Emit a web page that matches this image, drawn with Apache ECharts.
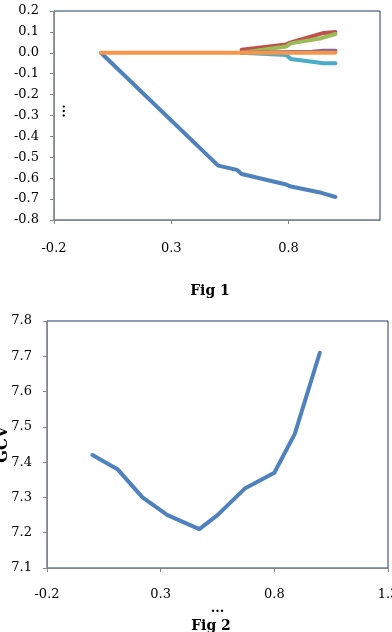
<!DOCTYPE html>
<html>
<head>
<meta charset="utf-8">
<script src="https://cdn.jsdelivr.net/npm/echarts@6/dist/echarts.min.js"></script>
<style>
  html, body { margin: 0; padding: 0; background: #fff; }
  #chart { width: 392px; height: 632px; }
</style>
</head>
<body>
<div id="chart"></div>
<script>
// Fig 1 - coefficient paths
var path1 = [[0, 0], [0.5, -0.54], [0.58, -0.56], [0.6, -0.58], [0.79, -0.63], [0.81, -0.64], [0.94, -0.67], [1.0, -0.69]];
var path2 = [[0.6, 0.015], [0.79, 0.04], [0.81, 0.05], [0.95, 0.095], [1.0, 0.1]];
var path3 = [[0.6, 0], [0.79, 0.03], [0.81, 0.045], [0.94, 0.07], [1.0, 0.09]];
var path4 = [[0.6, 0], [0.9, 0.005], [0.95, 0.01], [1.0, 0.01]];
var path5 = [[0.6, 0], [0.79, -0.01], [0.81, -0.03], [0.95, -0.05], [1.0, -0.05]];
var path6 = [[0, 0], [0.5, 0], [1.0, 0]];
var pathColors = ['#4F81BD', '#C0504D', '#9BBB59', '#8064A2', '#4BACC6', '#F79646'];

// Fig 2 - GCV curve
var gcvX = [0, 0.11, 0.22, 0.33, 0.47, 0.55, 0.67, 0.8, 0.89, 1.0];
var gcvY = [7.42, 7.38, 7.30, 7.25, 7.21, 7.25, 7.325, 7.37, 7.48, 7.71];

var myChart = echarts.init(document.getElementById('chart'));
var font = 'DejaVu Serif';
var axisGray = '#868686';

function lineSeries(data, color, xi, w) {
  return {
    type: 'line', xAxisIndex: xi, yAxisIndex: xi,
    data: data, showSymbol: false, symbol: 'none',
    lineStyle: { color: color, width: w, cap: 'round', join: 'round' },
    silent: true, animation: false
  };
}

var gcvData = gcvX.map(function (x, i) { return [x, gcvY[i]]; });

var option = {
  title: [
    { text: 'Fig 1', left: 205, top: 279, textAlign: 'center',
      textStyle: { fontFamily: font, fontSize: 14, fontWeight: 'bold', color: '#000' } },
    { text: 'Fig 2', left: 206, top: 614, textAlign: 'center',
      textStyle: { fontFamily: font, fontSize: 14, fontWeight: 'bold', color: '#000' } }
  ],
  graphic: [
    // fig 1 y-axis title sits just inside the plot
    { type: 'text', x: 62, y: 111, rotation: Math.PI / 2,
      style: { text: '...', fontFamily: font, fontSize: 13, fontWeight: 'bold', fill: '#000',
        align: 'center', verticalAlign: 'middle' } }
  ],
  grid: [
    { left: 54, top: 11, width: 326, height: 209, show: true, borderColor: '#1F3A6E', borderWidth: 1,
      outerBoundsMode: 'none' },
    { left: 47, top: 321, width: 341, height: 247, show: true, borderColor: '#1F3A6E', borderWidth: 1,
      outerBoundsMode: 'none' }
  ],
  xAxis: [
    { type: 'value', gridIndex: 0, min: -0.2, max: 1.19, interval: 0.5,
      splitLine: { show: false },
      axisLine: { show: true, onZero: false, lineStyle: { color: axisGray } },
      axisTick: { show: true, length: 4, lineStyle: { color: axisGray } },
      axisLabel: { margin: 22, showMaxLabel: false, fontFamily: font, fontSize: 13, color: '#000',
        formatter: function (v) { return v.toFixed(1); } } },
    { type: 'value', gridIndex: 1, min: -0.2, max: 1.3, interval: 0.5,
      name: '...', nameLocation: 'middle', nameGap: 34, nameMoveOverlap: false,
      nameTextStyle: { fontFamily: font, fontSize: 13, fontWeight: 'bold', color: '#000' },
      splitLine: { show: false },
      axisLine: { show: true, onZero: false, lineStyle: { color: axisGray } },
      axisTick: { show: true, length: 4, lineStyle: { color: axisGray } },
      axisLabel: { margin: 20, showMaxLabel: true, fontFamily: font, fontSize: 13, color: '#000',
        formatter: function (v) { return v.toFixed(1); } } }
  ],
  yAxis: [
    { type: 'value', gridIndex: 0, min: -0.8, max: 0.2, interval: 0.1,
      splitLine: { show: false },
      axisLine: { show: true, onZero: false, lineStyle: { color: axisGray } },
      axisTick: { show: true, length: 4, lineStyle: { color: axisGray } },
      axisLabel: { margin: 15, fontFamily: font, fontSize: 13, color: '#000',
        formatter: function (v) { return v.toFixed(1); } } },
    { type: 'value', gridIndex: 1, min: 7.1, max: 7.8, interval: 0.1,
      name: 'GCV', nameLocation: 'middle', nameRotate: 90, nameGap: 36, nameMoveOverlap: false,
      nameTextStyle: { fontFamily: font, fontSize: 15, fontWeight: 'bold', color: '#000' },
      splitLine: { show: false },
      axisLine: { show: true, onZero: false, lineStyle: { color: axisGray } },
      axisTick: { show: true, length: 4, lineStyle: { color: axisGray } },
      axisLabel: { margin: 15, fontFamily: font, fontSize: 13, color: '#000',
        formatter: function (v) { return v.toFixed(1); } } }
  ],
  series: [
    lineSeries(path1, pathColors[0], 0, 4),
    lineSeries(path2, pathColors[1], 0, 4),
    lineSeries(path3, pathColors[2], 0, 4),
    lineSeries(path4, pathColors[3], 0, 4),
    lineSeries(path5, pathColors[4], 0, 4),
    lineSeries(path6, pathColors[5], 0, 4),
    lineSeries(gcvData, '#4F81BD', 1, 4)
  ]
};
myChart.setOption(option);
</script>
</body>
</html>
